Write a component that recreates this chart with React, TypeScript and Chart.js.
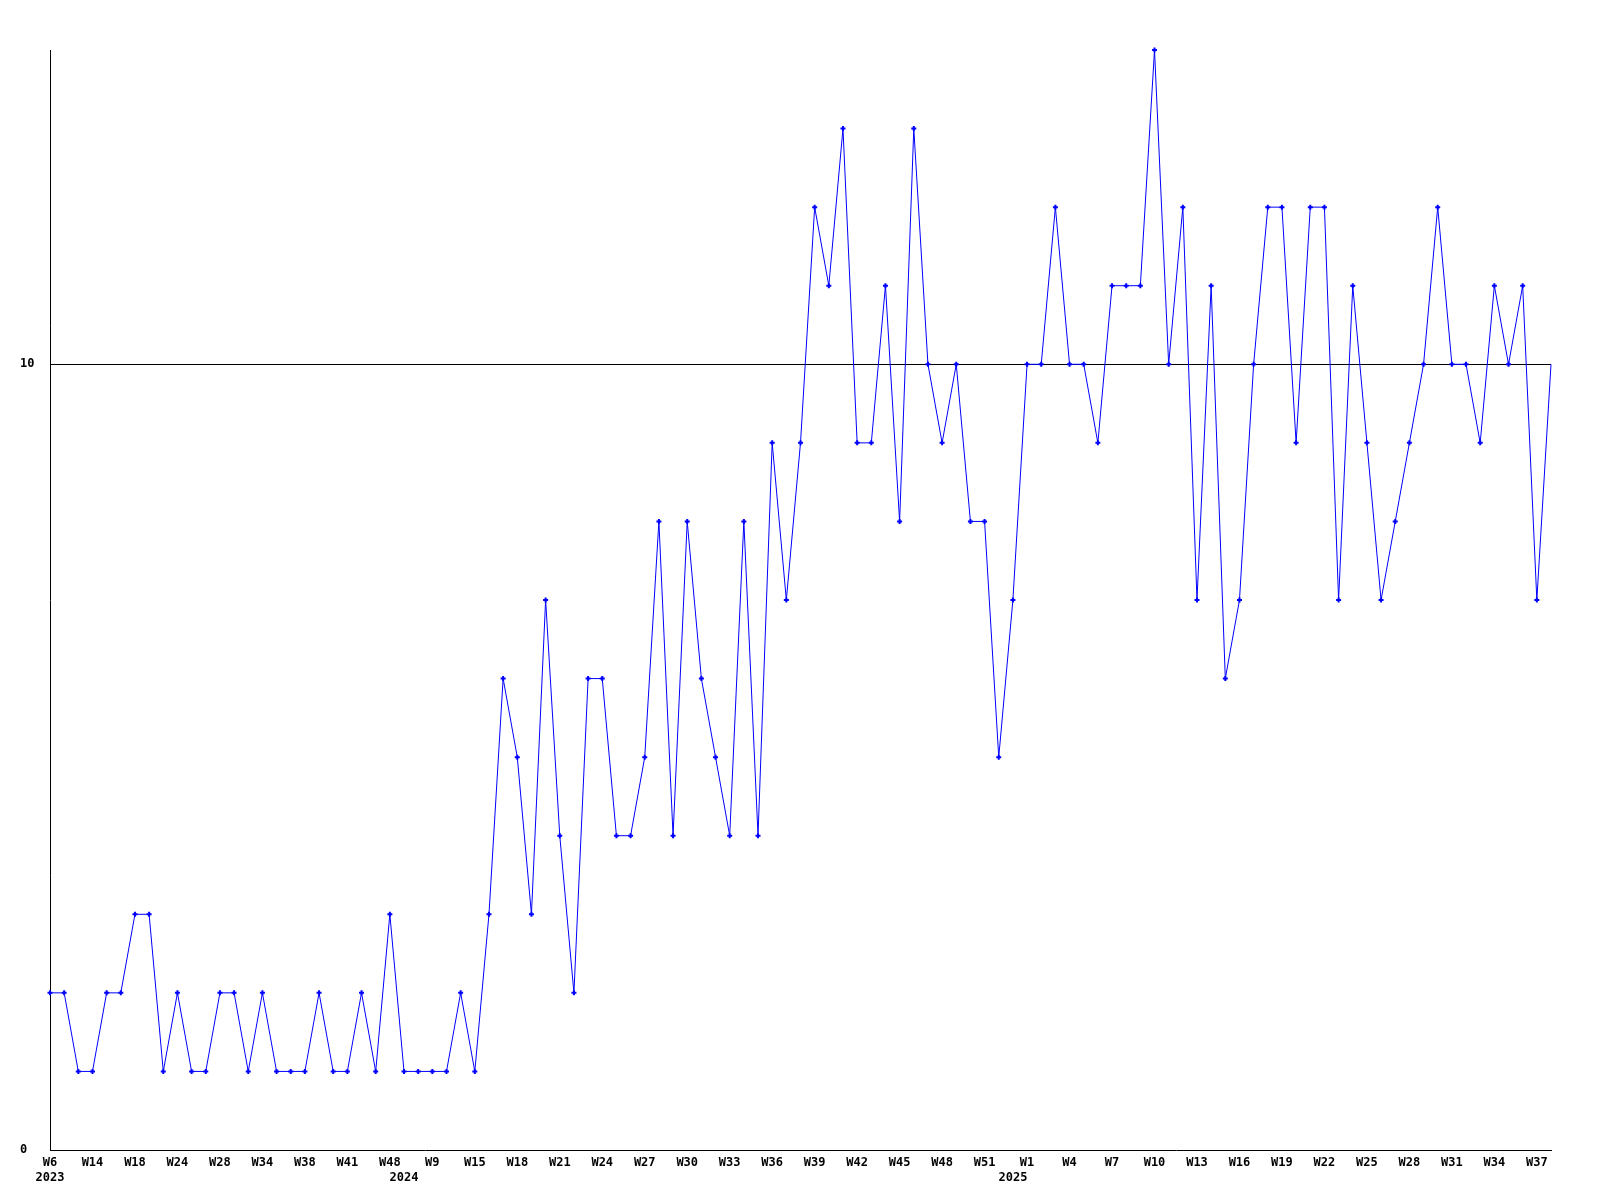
import React, { useEffect, useRef } from "react";
import { Chart, registerables } from "chart.js";

Chart.register(...registerables);

// Weekly values, one per point
const values = [
  2, 2, 1, 1, 2, 2, 3, 3, 1, 2, 1, 1, 2, 2, 1, 2, 1, 1, 1, 2, 1, 1, 2, 1, 3, 1, 1, 1, 1, 2, 1, 3,
  6, 5, 3, 7, 4, 2, 6, 6, 4, 4,
  5, 8, 4, 8, 6, 5, 4, 8, 4, 9,
  7, 9, 12, 11, 13, 9, 9, 11, 8, 13,
  10, 9, 10, 8, 8, 5, 7, 10, 10, 12,
  10, 10, 9, 11, 11, 11, 14, 10, 12, 7,
  11, 6, 7, 10, 12, 12, 9, 12, 12, 7,
  11, 9, 7, 8, 9, 10, 12, 10, 10, 9,
  11, 10, 11, 7, 10,
];

// Week labels, one per point (only every third is shown)
const weekLabels = [
  "W6", "W9", "W12", "W14", "W15", "W16", "W18", "W19", "W22", "W24", "W25", "W27", "W28",
  "W30", "W32", "W34", "W35", "W36", "W38", "W39", "W40", "W41", "W44", "W46", "W48",
  "W2", "W5", "W9", "W11", "W13", "W15", "W16", "W17", "W18", "W19", "W20", "W21", "W22",
  "W23", "W24", "W25", "W26", "W27", "W28", "W29", "W30", "W31", "W32", "W33", "W34", "W35",
  "W36", "W37", "W38", "W39", "W40", "W41", "W42", "W43", "W44", "W45", "W46", "W47", "W48",
  "W49", "W50", "W51", "W52",
  "W53", "W1", "W2", "W3", "W4", "W5", "W6", "W7", "W8", "W9", "W10", "W11", "W12", "W13",
  "W14", "W15", "W16", "W17", "W18", "W19", "W20", "W21", "W22", "W23", "W24", "W25", "W26",
  "W27", "W28", "W29", "W30", "W31", "W32", "W33", "W34", "W35", "W36", "W37", "W38",
];

const yearLabels = ["2023", "2024", "2025"];
const yearStartIndex = [0, 25, 68];

const yTickValues = [0, 10];
const Y_MAX = 14;
const LABEL_EVERY = 3;

const FONT = { family: "'DejaVu Sans Mono', monospace", size: 12, weight: "bold" as const, lineHeight: "15px" };

export default function App() {
  const canvasRef = useRef<HTMLCanvasElement | null>(null);

  useEffect(() => {
    const canvas = canvasRef.current;
    if (!canvas) return;
    const pointRadii = values.map((_, i) => (i === values.length - 1 ? 0 : 2.5));
    const chart = new Chart(canvas, {
      type: "line",
      data: {
        labels: weekLabels,
        datasets: [
          {
            data: values,
            borderColor: "#0000ff",
            backgroundColor: "#0000ff",
            borderWidth: 1,
            tension: 0,
            pointStyle: "cross",
            pointRadius: pointRadii,
            pointBorderWidth: 2,
            pointBorderColor: "#0000ff",
            clip: false,
          } as any,
        ],
      },
      options: {
        responsive: false,
        animation: false,
        devicePixelRatio: 1,
        layout: { padding: { top: 50, right: 49, left: 20, bottom: 0 } },
        plugins: { legend: { display: false }, tooltip: { enabled: false } },
        scales: {
          x: {
            type: "category",
            offset: false,
            grid: { display: false, drawTicks: false },
            border: { display: true, color: "#000", width: 1 },
            ticks: {
              autoSkip: false,
              maxRotation: 0,
              minRotation: 0,
              padding: 5,
              color: "#000",
              font: FONT,
              callback: (_v: any, index: number) => {
                const wk = index % LABEL_EVERY === 0 ? weekLabels[index] : "";
                const yi = yearStartIndex.indexOf(index);
                if (yi >= 0) return [wk, yearLabels[yi]];
                return wk;
              },
            },
            afterFit: (scale: any) => {
              scale.height = 50;
            },
          },
          y: {
            min: 0,
            max: Y_MAX,
            grid: {
              display: true,
              drawTicks: false,
              lineWidth: 1,
              color: (ctx: any) => (ctx.tick && ctx.tick.value === 10 ? "#000" : "rgba(0,0,0,0)"),
            },
            border: { display: true, color: "#000", width: 1 },
            ticks: {
              color: "#000",
              font: FONT,
              crossAlign: "far",
              padding: 0,
            },
            afterBuildTicks: (scale: any) => {
              scale.ticks = yTickValues.map((v) => ({ value: v }));
            },
            afterFit: (scale: any) => {
              scale.width = 30;
            },
          },
        },
      },
    });
    return () => chart.destroy();
  }, []);

  return (
    <div style={{ position: "absolute", left: 0, top: 0, width: 1600, height: 1200, background: "#fff" }}>
      <canvas ref={canvasRef} width={1600} height={1200} style={{ display: "block" }} />
    </div>
  );
}
